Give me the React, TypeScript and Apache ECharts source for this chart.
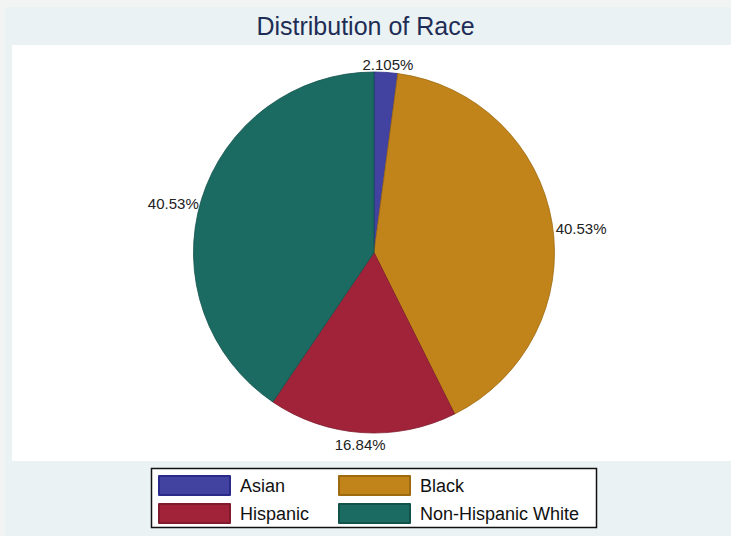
import React, { useEffect, useRef } from "react";
import * as echarts from "echarts";

const TITLE = "Distribution of Race";
const categories = ["Asian", "Black", "Hispanic", "Non-Hispanic White"];
const counts = [4, 77, 32, 77];
const fillColors = ["#4242A0", "#C0841A", "#A0233A", "#1B6B63"];
const borderColors = ["#2A2A8A", "#9E6A10", "#801A2C", "#11524B"];
const legendLeftColumn = ["Asian", "Hispanic"];
const legendRightColumn = ["Black", "Non-Hispanic White"];

const W = 731;
const H = 536;
const CX = 374;
const CY = 252.5;
const RADIUS = 180.5;
const LABEL_GAP = 4;
const FONT = "'Liberation Sans', Arial, Helvetica, sans-serif";

export default function App() {
  const ref = useRef<HTMLDivElement>(null);

  useEffect(() => {
    document.body.style.margin = "0";
    if (!ref.current) return;
    const chart = echarts.init(ref.current, null, { renderer: "svg" });

    const total = counts.reduce((a, b) => a + b, 0);
    const midAngles: number[] = [];
    let acc = 0;
    counts.forEach((v) => {
      midAngles.push(((acc + v / 2) / total) * Math.PI * 2);
      acc += v;
    });

    const legendBase = {
      orient: "vertical" as const,
      padding: 0,
      itemWidth: 71,
      itemHeight: 19,
      itemGap: 7,
      icon: "rect",
      selectedMode: false,
      textStyle: {
        fontFamily: FONT,
        fontSize: 18,
        color: "#111",
        lineHeight: 19,
        padding: [0, 0, 0, 5],
      },
    };

    chart.setOption({
      animation: false,
      backgroundColor: "#F2F3F3",
      title: {
        text: TITLE,
        left: "center",
        top: 8,
        textStyle: {
          fontFamily: FONT,
          fontSize: 25,
          fontWeight: "normal",
          color: "#1E2D55",
        },
      },
      graphic: [
        {
          type: "rect",
          z: -10,
          shape: { x: 5, y: 7, width: W - 5, height: H - 7 },
          style: { fill: "#EAF2F3" },
          silent: true,
        },
        {
          type: "rect",
          z: -9,
          shape: { x: 12, y: 45, width: W - 12, height: 416 },
          style: { fill: "#FFFFFF" },
          silent: true,
        },
        {
          type: "rect",
          z: -8,
          shape: { x: 151.5, y: 468.5, width: 445, height: 59 },
          style: { fill: "#FFFFFF", stroke: "#111", lineWidth: 1.5 },
          silent: true,
        },
      ],
      legend: [
        { ...legendBase, data: legendLeftColumn, left: 158, top: 475 },
        { ...legendBase, data: legendRightColumn, left: 338, top: 475 },
      ],
      series: [
        {
          type: "pie",
          center: [CX, CY],
          radius: RADIUS,
          startAngle: 90,
          clockwise: true,
          avoidLabelOverlap: false,
          silent: true,
          data: categories.map((name, i) => ({
            name,
            value: counts[i],
            itemStyle: {
              color: fillColors[i],
              borderColor: borderColors[i],
              borderWidth: 0.8,
            },
          })),
          label: {
            show: true,
            position: "outside",
            fontFamily: FONT,
            fontSize: 15,
            color: "#222",
            formatter: (p: any) =>
              ((p.value / total) * 100).toPrecision(4) + "%",
          },
          labelLine: { show: false },
          labelLayout: (params: any) => {
            const i = params.dataIndex;
            const th = midAngles[i];
            const ux = Math.sin(th);
            const uy = -Math.cos(th);
            const w = params.labelRect.width;
            const h = 14;
            const R = RADIUS + LABEL_GAP;
            return {
              x: CX + R * ux + (w / 2) * ux,
              y:
                CY +
                R * uy +
                (h / 2) * uy +
                3 -
                2 * Math.max(uy, 0) +
                5 * ux * ux,
              align: "center",
              verticalAlign: "middle",
            };
          },
        },
      ],
    });

    return () => chart.dispose();
  }, []);

  return <div ref={ref} style={{ width: W, height: H }} />;
}
